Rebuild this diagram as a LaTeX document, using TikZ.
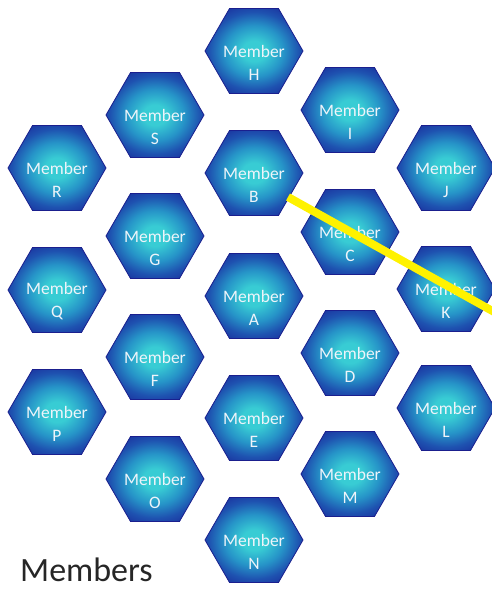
\documentclass[tikz,border=0pt]{standalone}
\usepackage{fontspec}
\setmainfont{Carlito}
\usetikzlibrary{shapes.geometric}
\definecolor{hexc}{HTML}{38CCD4}
\definecolor{hexm}{HTML}{2694C8}
\definecolor{hexd}{HTML}{1E52B0}
\definecolor{hexo}{HTML}{1A2A9A}
\definecolor{hexborder}{HTML}{1A1F8E}
\definecolor{memtextcol}{HTML}{EEF4FA}
\definecolor{linkyellow}{HTML}{FFF200}
\definecolor{titlecol}{HTML}{262626}
\pgfdeclareradialshading{hexshade}{\pgfpoint{0bp}{0bp}}{color(0bp)=(hexc); color(6bp)=(hexc); color(15bp)=(hexm); color(23bp)=(hexd); color(31bp)=(hexo); color(50bp)=(hexo)}
\tikzset{
  hex/.style={regular polygon, regular polygon sides=6, minimum size=98pt, inner sep=0pt,
    shading=hexshade, draw=hexborder, line width=0.8pt},
  memtext/.style={align=center, text=memtextcol, font=\fontsize{17.5}{23}\selectfont, inner sep=0pt},
  titletext/.style={anchor=base west, text=titlecol, font=\fontsize{34}{38}\selectfont, inner sep=0pt},
  link/.style={draw=linkyellow, line width=8pt}
}
\begin{document}
\begin{tikzpicture}[x=1pt,y=-1pt]
\useasboundingbox (0,0) rectangle (491,589);
\foreach \n/\x/\y in {H/254/51, S/155/115, I/350/110, R/57/168, B/254/173, J/446/168,
  G/155/236, C/350/232, Q/57/290, A/254/296, K/446/289, F/155/357, D/350/353,
  P/57/412, E/254/418, L/446/408, O/155/479, M/350/474, N/254/540}{
  \node[hex] (\n) at (\x,\y) {};
  \node[memtext] (t\n) at ([yshift=-11.5pt]\n.center) {Member\\\n};
}
\node[titletext] (title) at (20,581) {Members};
\coordinate (lineend) at (505,318);
\draw[link] ([xshift=34pt,yshift=-24pt]B.center) -- (lineend);
\end{tikzpicture}
\end{document}
